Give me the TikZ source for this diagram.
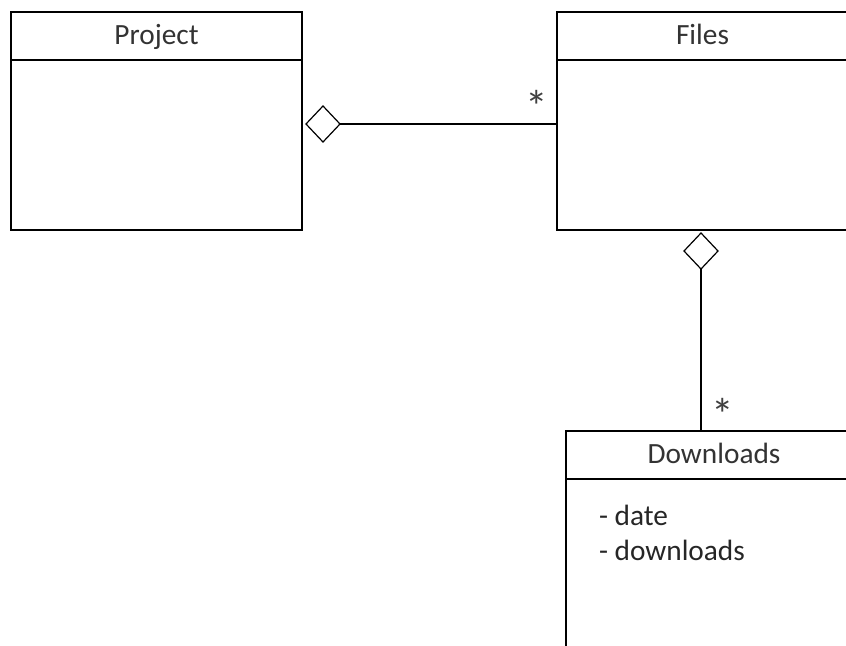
\documentclass[tikz,border=0pt]{standalone}
\usepackage{fontspec}
\setmainfont{Carlito}
\usetikzlibrary{shapes.geometric,positioning}

\begin{document}
\begin{tikzpicture}[x=0.75pt, y=-0.75pt, line width=1.5pt,
    title/.style={draw, rectangle, anchor=north west, outer sep=0pt, minimum width=218.25pt, minimum height=36pt, inner sep=0pt, text height=15pt, text depth=3pt, text=black!80, font=\fontsize{22}{26}\selectfont},
    body/.style={draw, rectangle, outer sep=0pt, minimum width=218.25pt, minimum height=127.5pt, inner sep=0pt},
    attr/.style={anchor=base west, inner sep=0pt, text=black!85, font=\fontsize{22}{26}\selectfont},
    agg/.style={draw, diamond, line width=0.9pt, outer sep=0pt, minimum width=25.5pt, minimum height=27pt, inner sep=0pt},
    mult/.style={anchor=base, inner sep=0pt, text=black!75, font=\fontsize{34}{40}\selectfont}]
        \path[use as bounding box, clip] (0,0) rectangle (846,646);

        % classes
        \node[title] (projtitle) at (11,12) {Project};
        \node[body, below=0pt of projtitle] (projbody) {};
        \node[title] (filestitle) at (557,12) {Files};
        \node[body, below=0pt of filestitle] (filesbody) {};
        \node[title, minimum width=222pt] (dltitle) at (566,431) {Downloads};
        \node[body, minimum width=222pt, minimum height=190pt, below=0pt of dltitle] (dlbody) {};
        \node[attr] (dldate) at (598,525) {- date};
        \node[attr] (dlcount) at (598,560) {- downloads};

        % aggregations
        \node[agg] (projagg) at (323,124) {};
        \node[agg] (filesagg) at (701,251) {};
        \draw (projagg.east) -- (projagg.east -| filesbody.west);
        \draw (filesagg.south) -- (filesagg.south |- dltitle.north);
        \node[mult] (filesmult) at (537,122) {*};
        \node[mult] (dlmult) at (723,430) {*};
    \end{tikzpicture}
\end{document}
